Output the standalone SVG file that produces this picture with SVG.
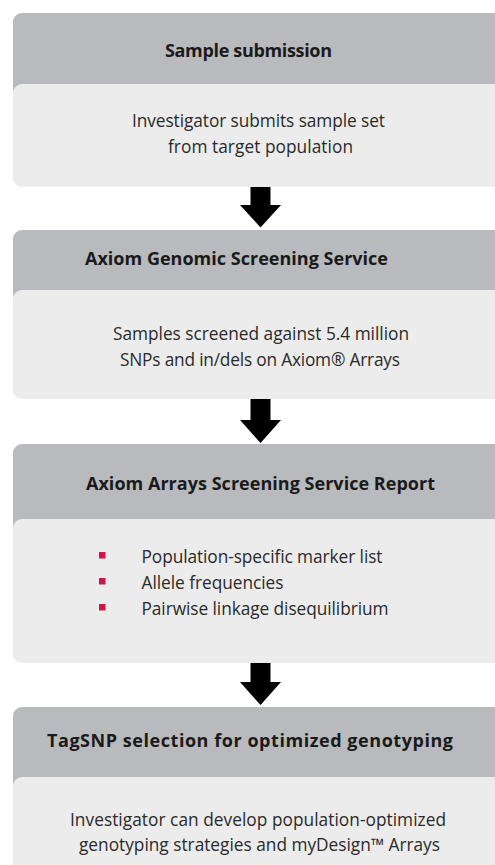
<svg xmlns="http://www.w3.org/2000/svg" width="495" height="865" viewBox="0 0 495 865">
<defs>
<style>
.hd{fill:#b9babd}
.bd{fill:#ececec}
.t{font-family:"Open Sans","Noto Sans","Liberation Sans",sans-serif;font-size:18px;font-weight:700;fill:#1a1a1a;text-anchor:middle}
.b{font-family:"Open Sans","Noto Sans","Liberation Sans",sans-serif;font-size:17.3px;font-weight:400;fill:#2a2a2a;text-anchor:middle}
.l{font-family:"Open Sans","Noto Sans","Liberation Sans",sans-serif;font-size:17.3px;font-weight:400;fill:#2a2a2a}
.bul{fill:#d2144a}
.ar{fill:#000}
</style>
</defs>
<rect width="495" height="865" fill="#fff"/>
<g id="node1">
<rect class="hd" x="13" y="13" width="500" height="110" rx="9"/>
<rect class="bd" x="13" y="84" width="500" height="103" rx="9"/>
<text class="t" x="248.5" y="57" textLength="167">Sample submission</text>
<text class="b" x="258.5" y="127" textLength="253">Investigator submits sample set</text>
<text class="b" x="260.5" y="153" textLength="185">from target population</text>
</g>
<g id="node2">
<rect class="hd" x="13" y="230" width="500" height="100" rx="9"/>
<rect class="bd" x="13" y="290" width="500" height="109" rx="9"/>
<text class="t" x="236.5" y="265" textLength="303">Axiom Genomic Screening Service</text>
<text class="b" x="261" y="340" textLength="296">Samples screened against 5.4 million</text>
<text class="b" x="260" y="366" textLength="280">SNPs and in/dels on Axiom® Arrays</text>
</g>
<g id="node3">
<rect class="hd" x="13" y="444" width="500" height="110" rx="9"/>
<rect class="bd" x="13" y="519" width="500" height="144" rx="9"/>
<text class="t" x="260.5" y="490" textLength="349">Axiom Arrays Screening Service Report</text>
<rect class="bul" x="99" y="552" width="6.5" height="6.5"/>
<rect class="bul" x="99" y="578" width="6.5" height="6.5"/>
<rect class="bul" x="99" y="604" width="6.5" height="6.5"/>
<text class="l" x="141.5" y="563" textLength="241">Population-specific marker list</text>
<text class="l" x="141.5" y="589" textLength="142">Allele frequencies</text>
<text class="l" x="141.5" y="615" textLength="247">Pairwise linkage disequilibrium</text>
</g>
<g id="node4">
<rect class="hd" x="13" y="707" width="500" height="110" rx="9"/>
<rect class="bd" x="13" y="777" width="500" height="120" rx="9"/>
<text class="t" x="250" y="747" textLength="406">TagSNP selection for optimized genotyping</text>
<text class="b" x="258" y="826" textLength="376">Investigator can develop population-optimized</text>
<text class="b" x="259.5" y="851" textLength="361">genotyping strategies and myDesign™ Arrays</text>
</g>
<g id="connectors">
<path class="ar" d="M250.5 187H270.5V205H281L260.5 227.5L240 205H250.5Z"/>
<path class="ar" d="M250.5 399H270.5V420H281L260.5 443L240 420H250.5Z"/>
<path class="ar" d="M250.5 663H270.5V682H281L260.5 705L240 682H250.5Z"/>
</g>
</svg>
